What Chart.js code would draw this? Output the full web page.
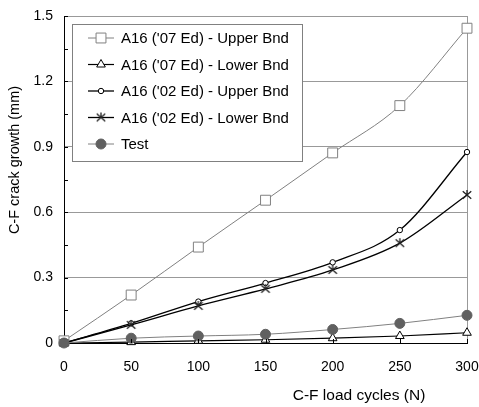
<!DOCTYPE html>
<html><head><meta charset="utf-8">
<script src="https://cdn.jsdelivr.net/npm/chart.js@4/dist/chart.umd.min.js"></script>
<style>html,body{margin:0;padding:0;background:#fff}#wrap{width:479px;height:407px;position:relative}</style>
</head><body><div id="wrap"><canvas id="c" width="479" height="407"></canvas></div>
<script>
const cycles = [0, 50, 100, 150, 200, 250, 300];
const upper07 = [0.01, 0.22, 0.44, 0.655, 0.872, 1.089, 1.444];
const lower07 = [0, 0.004, 0.01, 0.015, 0.022, 0.032, 0.047];
const upper02 = [0, 0.09, 0.19, 0.275, 0.37, 0.518, 0.876];
const lower02 = [0, 0.083, 0.17, 0.248, 0.335, 0.458, 0.679];
const test = [0, 0.022, 0.032, 0.04, 0.062, 0.09, 0.127];
const seriesLabels = ["A16 ('07 Ed) - Upper Bnd", "A16 ('07 Ed) - Lower Bnd", "A16 ('02 Ed) - Upper Bnd", "A16 ('02 Ed) - Lower Bnd", "Test"];
const yTicks = [0, 0.3, 0.6, 0.9, 1.2, 1.5];
const xTicks = [0, 50, 100, 150, 200, 250, 300];
const xTitle = 'C-F load cycles (N)';
const yTitle = 'C-F crack growth (mm)';

const FONT = '"Liberation Sans", Arial, sans-serif';

function asterisk(size, color){
  const c = document.createElement('canvas');
  c.width = size; c.height = size;
  const x = c.getContext('2d');
  x.strokeStyle = color; x.lineWidth = 1.3;
  const m = size/2, r = size/2 - 1;
  x.beginPath();
  x.moveTo(m, m - r); x.lineTo(m, m + r*0.2);
  x.moveTo(m - r*0.85, m - r*0.75); x.lineTo(m + r*0.85, m + r*0.75);
  x.moveTo(m + r*0.85, m - r*0.75); x.lineTo(m - r*0.85, m + r*0.75);
  x.stroke();
  return c;
}
const starImg = asterisk(12, '#222');

function pts(arr){ return cycles.map((x,i)=>({x:x, y:arr[i]})); }

const datasets = [
  {label: seriesLabels[0], data: pts(upper07), borderColor:'#808080', borderWidth:1, pointStyle:'rect', pointRadius:7, pointBackgroundColor:'#fff', pointBorderColor:'#808080', pointBorderWidth:1, order:4},
  {label: seriesLabels[1], data: pts(lower07), borderColor:'#000', borderWidth:1.2, pointStyle:'triangle', pointRadius:5, pointBackgroundColor:'#fff', pointBorderColor:'#000', pointBorderWidth:1, order:3},
  {label: seriesLabels[2], data: pts(upper02), borderColor:'#000', borderWidth:1.3, pointStyle:'circle', pointRadius:2.7, pointBackgroundColor:'#fff', pointBorderColor:'#000', pointBorderWidth:1, order:2},
  {label: seriesLabels[3], data: pts(lower02), borderColor:'#000', borderWidth:1.3, pointStyle:starImg, pointRadius:6, order:1},
  {label: seriesLabels[4], data: pts(test), borderColor:'#808080', borderWidth:1, pointStyle:'circle', pointRadius:5, pointBackgroundColor:'#606060', pointBorderColor:'#606060', pointBorderWidth:1, order:0}
];
datasets.forEach(d=>{ d.fill=false; d.cubicInterpolationMode='monotone'; d.clip=false; });

function drawMarker(ctx, ds, x, y){
  ctx.save();
  if (ds.pointStyle instanceof HTMLCanvasElement){
    ctx.drawImage(ds.pointStyle, x - ds.pointStyle.width/2, y - ds.pointStyle.height/2);
    ctx.restore(); return;
  }
  ctx.fillStyle = ds.pointBackgroundColor; ctx.strokeStyle = ds.pointBorderColor; ctx.lineWidth = 1;
  const r = ds.pointRadius;
  ctx.beginPath();
  if (ds.pointStyle === 'rect'){ const s = Math.SQRT1_2*r; ctx.rect(x-s, y-s, 2*s, 2*s); }
  else if (ds.pointStyle === 'triangle'){ ctx.moveTo(x, y - r); ctx.lineTo(x + r*0.866, y + r*0.5); ctx.lineTo(x - r*0.866, y + r*0.5); ctx.closePath(); }
  else { ctx.arc(x, y, r, 0, Math.PI*2); }
  ctx.fill(); ctx.stroke();
  ctx.restore();
}

const overlay = {
  id: 'overlay',
  afterDraw(chart){
    const ctx = chart.ctx;
    const ys = chart.scales.y, xs = chart.scales.x;
    ctx.save();
    ctx.strokeStyle = '#000'; ctx.lineWidth = 1;
    for (let v = 0.15; v < 1.5; v += 0.15){
      const py = Math.round(ys.getPixelForValue(v)) + 0.5;
      ctx.beginPath(); ctx.moveTo(xs.left, py); ctx.lineTo(xs.left + 4, py); ctx.stroke();
    }
    xTicks.forEach(v=>{
      if (v === 0) return;
      const px = Math.round(xs.getPixelForValue(v)) + 0.5;
      ctx.beginPath(); ctx.moveTo(px, ys.bottom); ctx.lineTo(px, ys.bottom - 4); ctx.stroke();
    });
    // legend
    const bx = 72.5, by = 24.5, bw = 230, bh = 137;
    ctx.fillStyle = '#fff'; ctx.fillRect(bx, by, bw, bh);
    ctx.strokeStyle = '#808080'; ctx.lineWidth = 1; ctx.strokeRect(bx, by, bw, bh);
    ctx.font = '15px ' + FONT; ctx.textBaseline = 'middle'; ctx.textAlign = 'left';
    datasets.forEach((ds, i)=>{
      const y = 38 + i*26.5;
      ctx.strokeStyle = ds.borderColor; ctx.lineWidth = ds.borderWidth;
      ctx.beginPath(); ctx.moveTo(88, y); ctx.lineTo(114, y); ctx.stroke();
      drawMarker(ctx, ds, 101, y);
      ctx.fillStyle = '#000';
      ctx.fillText(ds.label, 121, y + 1);
    });
    // axis titles
    ctx.fillStyle = '#000'; ctx.textAlign = 'center'; ctx.textBaseline = 'middle';
    ctx.font = '15.5px ' + FONT;
    ctx.fillText(xTitle, 359, 396);
    ctx.font = '14.5px ' + FONT;
    ctx.translate(15, 160); ctx.rotate(-Math.PI/2);
    ctx.fillText(yTitle, 0, 0);
    ctx.restore();
  }
};

new Chart(document.getElementById('c'), {
  type: 'line',
  data: { datasets },
  options: {
    responsive: false, animation: false, devicePixelRatio: 1,
    layout: { padding: { top: 16, right: 12, left: 0, bottom: 0 } },
    plugins: { legend: { display: false }, tooltip: { enabled: false } },
    scales: {
      x: {
        type: 'linear', min: 0, max: 300,
        afterBuildTicks: s => { s.ticks = xTicks.map(v=>({value:v})); },
        afterFit: s => { s.height = 64; s.paddingLeft = 0; s.paddingRight = 0; },
        ticks: { color:'#000', font:{ family: FONT, size: 14 }, padding: 16, maxRotation: 0 },
        grid: { color: c => c.tick && c.tick.value === 300 ? '#999' : 'rgba(0,0,0,0)', drawTicks: false, lineWidth: 1 },
        border: { color: '#000', width: 1 }
      },
      y: {
        min: 0, max: 1.5,
        afterBuildTicks: s => { s.ticks = yTicks.map(v=>({value:v})); },
        afterFit: s => { s.width = 64; s.paddingTop = 0; s.paddingBottom = 0; },
        ticks: { color:'#000', font:{ family: FONT, size: 14 }, padding: 11, callback: v => String(Math.round(v*10)/10) },
        grid: { color: c => c.tick && c.tick.value === 0 ? 'rgba(0,0,0,0)' : '#999', drawTicks: false, lineWidth: 1 },
        border: { color: '#000', width: 1 }
      }
    }
  },
  plugins: [overlay]
});
</script></body></html>
